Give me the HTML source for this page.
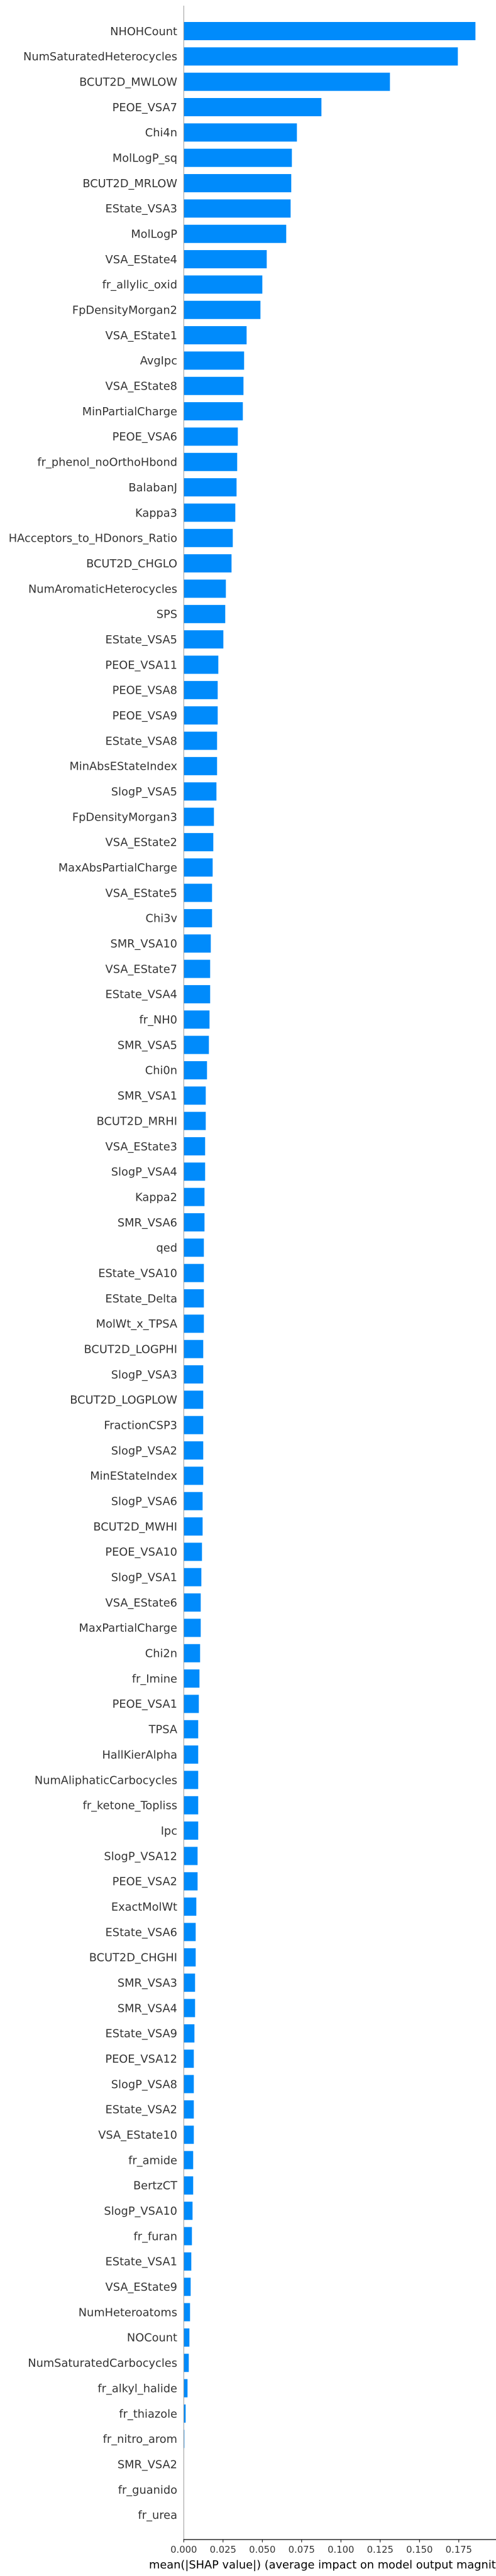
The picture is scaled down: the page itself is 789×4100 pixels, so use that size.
<!DOCTYPE html>
<html>
<head>
<meta charset="utf-8">
<style>
html,body{margin:0;padding:0;background:#fff;}
svg{display:block;}
text{font-family:"DejaVu Sans","Liberation Sans",sans-serif;}
</style>
</head>
<body>
<svg id="chart" width="789" height="4100" viewBox="0 0 789 4100" xmlns="http://www.w3.org/2000/svg"></svg>
<script>
const features = ["NHOHCount","NumSaturatedHeterocycles","BCUT2D_MWLOW","PEOE_VSA7","Chi4n","MolLogP_sq","BCUT2D_MRLOW","EState_VSA3","MolLogP","VSA_EState4","fr_allylic_oxid","FpDensityMorgan2","VSA_EState1","AvgIpc","VSA_EState8","MinPartialCharge","PEOE_VSA6","fr_phenol_noOrthoHbond","BalabanJ","Kappa3","HAcceptors_to_HDonors_Ratio","BCUT2D_CHGLO","NumAromaticHeterocycles","SPS","EState_VSA5","PEOE_VSA11","PEOE_VSA8","PEOE_VSA9","EState_VSA8","MinAbsEStateIndex","SlogP_VSA5","FpDensityMorgan3","VSA_EState2","MaxAbsPartialCharge","VSA_EState5","Chi3v","SMR_VSA10","VSA_EState7","EState_VSA4","fr_NH0","SMR_VSA5","Chi0n","SMR_VSA1","BCUT2D_MRHI","VSA_EState3","SlogP_VSA4","Kappa2","SMR_VSA6","qed","EState_VSA10","EState_Delta","MolWt_x_TPSA","BCUT2D_LOGPHI","SlogP_VSA3","BCUT2D_LOGPLOW","FractionCSP3","SlogP_VSA2","MinEStateIndex","SlogP_VSA6","BCUT2D_MWHI","PEOE_VSA10","SlogP_VSA1","VSA_EState6","MaxPartialCharge","Chi2n","fr_Imine","PEOE_VSA1","TPSA","HallKierAlpha","NumAliphaticCarbocycles","fr_ketone_Topliss","Ipc","SlogP_VSA12","PEOE_VSA2","ExactMolWt","EState_VSA6","BCUT2D_CHGHI","SMR_VSA3","SMR_VSA4","EState_VSA9","PEOE_VSA12","SlogP_VSA8","EState_VSA2","VSA_EState10","fr_amide","BertzCT","SlogP_VSA10","fr_furan","EState_VSA1","VSA_EState9","NumHeteroatoms","NOCount","NumSaturatedCarbocycles","fr_alkyl_halide","fr_thiazole","fr_nitro_arom","SMR_VSA2","fr_guanido","fr_urea"];
const meanAbsShap = [0.1856,0.1744,0.1312,0.0876,0.072,0.0688,0.0684,0.068,0.0652,0.0528,0.050,0.0488,0.040,0.0384,0.038,0.0376,0.0344,0.034,0.0336,0.0328,0.0312,0.0304,0.0268,0.0264,0.0252,0.022,0.0216,0.0216,0.0212,0.0212,0.0208,0.0192,0.0188,0.0184,0.018,0.018,0.0172,0.0168,0.0168,0.0164,0.016,0.0148,0.014,0.014,0.0136,0.0136,0.0132,0.0132,0.0128,0.0128,0.0128,0.0128,0.0124,0.0124,0.0124,0.0124,0.0124,0.0124,0.012,0.012,0.0116,0.0112,0.0108,0.0108,0.0104,0.010,0.0096,0.0092,0.0092,0.0092,0.0092,0.0092,0.0088,0.0088,0.008,0.0076,0.0076,0.0072,0.0072,0.0068,0.0064,0.0064,0.0064,0.0064,0.006,0.006,0.0056,0.0052,0.0048,0.0044,0.004,0.0036,0.0032,0.0024,0.0012,0.0004,0,0,0];
const xTicks = [0,0.025,0.05,0.075,0.1,0.125,0.15,0.175];
const xTickLabels = ["0.000","0.025","0.050","0.075","0.100","0.125","0.150","0.175"];

const NS = "http://www.w3.org/2000/svg";
const svg = document.getElementById("chart");
const X0 = 292.3, PX_PER_UNIT = 2500;
const Y0 = 49.5, STEP = 40.34, BAR_H = 29;
const AXIS_Y = 4042;
function xScale(v){ return X0 + v * PX_PER_UNIT; }
function yScale(i){ return Y0 + i * STEP; }
function mk(tag, attrs){ const e = document.createElementNS(NS, tag); for (const k in attrs) e.setAttribute(k, attrs[k]); svg.appendChild(e); return e; }

// bars and labels
features.forEach((f, i) => {
  const v = meanAbsShap[i];
  const cy = yScale(i);
  const r = mk("rect", {x: xScale(0), y: cy - BAR_H/2, width: Math.max(0, xScale(v) - xScale(0)), height: BAR_H, fill: "#008bfb"});
  
  
  const t = mk("text", {x: 282, y: cy + 6.3, "text-anchor": "end", "font-size": "17.8", fill: "#333"});
  t.textContent = f;
  
  
});

// left spine
const spine = mk("line", {x1: X0, y1: 9, x2: X0, y2: AXIS_Y, stroke: "#999", "stroke-width": 1});



// bottom axis
const ax = mk("line", {x1: X0 - 0.5, y1: AXIS_Y, x2: 789, y2: AXIS_Y, stroke: "#000", "stroke-width": 1.2});



xTicks.forEach((tv, i) => {
  const x = xScale(tv);
  const tk = mk("line", {x1: x, y1: AXIS_Y, x2: x, y2: AXIS_Y + 4.5, stroke: "#000", "stroke-width": 1});
  
  
  const lb = mk("text", {x: x, y: AXIS_Y + 21, "text-anchor": "middle", "font-size": "14.8", fill: "#333"});
  lb.textContent = xTickLabels[i];
  
  
});

const title = mk("text", {x: 237, y: 4088, "font-size": "17.8", fill: "#000"});
title.textContent = "mean(|SHAP value|) (average impact on model output magnitude)";


</script>
</body>
</html>
